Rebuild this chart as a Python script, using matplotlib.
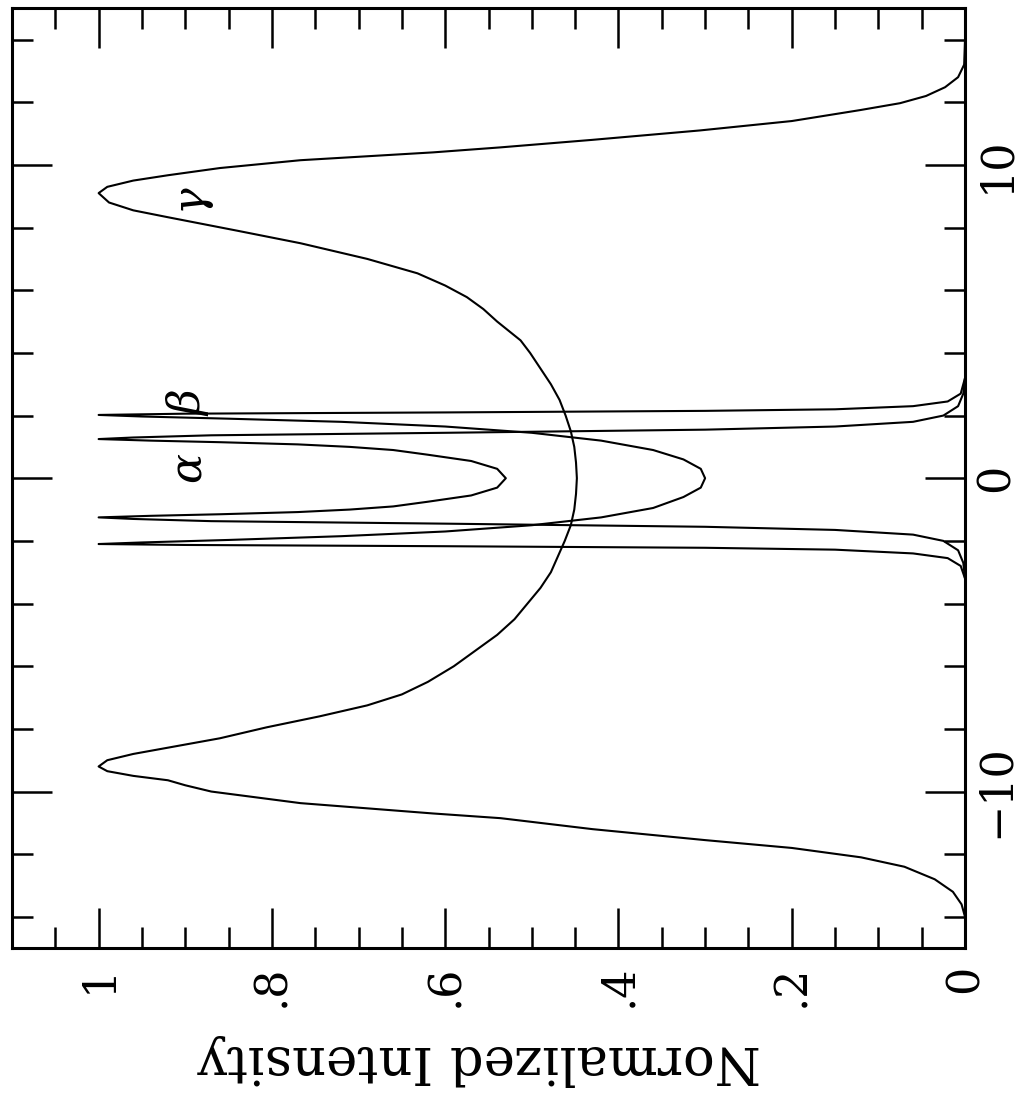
import matplotlib
matplotlib.use("Agg")
import matplotlib.pyplot as plt
from matplotlib.ticker import MultipleLocator, FixedLocator

plt.rcParams['font.family'] = ['DejaVu Serif']
plt.rcParams['mathtext.fontset'] = 'dejavuserif'

# profile positions (vertical axis) and normalized intensities
gamma_x = [-15.0, -14.0, -13.6, -13.2, -12.8, -12.4, -12.1, -11.8, -11.55, -11.2,
           -10.85, -10.7, -10.37, -10.0, -9.8, -9.64, -9.5, -9.35, -9.2, -9.0,
           -8.8, -8.6, -8.3, -7.95, -7.6, -7.25, -6.9, -6.5, -6.0, -5.5,
           -5.0, -4.5, -4.0, -3.5, -3.0, -2.5, -2.0, -1.5, -1.0, -0.5,
           0.0, 0.5, 1.0, 1.5, 2.0, 2.5, 3.0, 3.5, 4.0, 4.4,
           5.0, 5.4, 5.78, 6.15, 6.54, 7.0, 7.5, 7.9, 8.33, 8.55,
           8.8, 9.1, 9.3, 9.5, 9.67, 9.9, 10.15, 10.4, 10.56, 10.8,
           11.1, 11.4, 11.75, 11.97, 12.2, 12.48, 12.8, 13.2, 14.0, 15.0]
gamma_i = [0.0, 0.0, 0.004, 0.014, 0.035, 0.07, 0.12, 0.2, 0.30, 0.43,
           0.536, 0.614, 0.767, 0.87, 0.90, 0.92, 0.96, 0.99, 1.0, 0.99,
           0.96, 0.92, 0.86, 0.806, 0.745, 0.69, 0.65, 0.62, 0.59, 0.565,
           0.54, 0.52, 0.505, 0.49, 0.478, 0.47, 0.462, 0.455, 0.451, 0.449,
           0.448, 0.449, 0.451, 0.455, 0.461, 0.468, 0.478, 0.49, 0.502, 0.513,
           0.54, 0.556, 0.575, 0.60, 0.632, 0.69, 0.767, 0.84, 0.92, 0.96,
           0.988, 1.0, 0.99, 0.96, 0.92, 0.86, 0.767, 0.614, 0.536, 0.43,
           0.306, 0.2, 0.121, 0.075, 0.045, 0.023, 0.008, 0.001, 0.0, 0.0]

alpha_x = [-3.2, -2.7, -2.3, -2.0, -1.8, -1.65, -1.55, -1.45, -1.37, -1.3,
           -1.25, -1.2, -1.15, -1.08, -1.0, -0.9, -0.75, -0.55, -0.3, 0.0,
           0.3, 0.55, 0.75, 0.9, 1.0, 1.08, 1.15, 1.2, 1.25, 1.3,
           1.37, 1.45, 1.55, 1.65, 1.8, 2.0, 2.3, 2.7, 3.2]
alpha_i = [0.0, 0.002, 0.008, 0.025, 0.06, 0.15, 0.3, 0.6, 0.87, 0.96,
           1.0, 0.94, 0.86, 0.77, 0.71, 0.66, 0.62, 0.57, 0.54, 0.53,
           0.54, 0.57, 0.62, 0.66, 0.71, 0.77, 0.86, 0.94, 1.0, 0.96,
           0.87, 0.6, 0.3, 0.15, 0.06, 0.025, 0.008, 0.002, 0.0]

beta_x = [-3.2, -2.8, -2.55, -2.4, -2.28, -2.22, -2.17, -2.13, -2.1, -2.05,
          -1.97, -1.85, -1.7, -1.5, -1.25, -0.95, -0.6, -0.3, 0.0, 0.3,
          0.6, 0.9, 1.2, 1.45, 1.65, 1.8, 1.9, 1.97, 2.02, 2.06,
          2.1, 2.15, 2.2, 2.3, 2.45, 2.7, 3.2]
beta_i = [0.0, 0.005, 0.02, 0.06, 0.15, 0.3, 0.6, 0.9, 1.0, 0.95,
          0.85, 0.72, 0.6, 0.5, 0.42, 0.36, 0.325, 0.305, 0.30, 0.305,
          0.325, 0.36, 0.42, 0.5, 0.6, 0.72, 0.85, 0.95, 1.0, 0.9,
          0.6, 0.3, 0.15, 0.06, 0.02, 0.005, 0.0]

intensity_ticks = [0.0, 0.2, 0.4, 0.6, 0.8, 1.0]
intensity_labels = ['0', '.2', '.4', '.6', '.8', '1']

fig = plt.figure(figsize=(10.33, 11), dpi=100)
ax = fig.add_axes([0.0116, 0.138, 0.9226, 0.8545])

for xs, ys in [(gamma_x, gamma_i), (alpha_x, alpha_i), (beta_x, beta_i)]:
    ax.plot(ys, xs, color='black', lw=1.5, solid_joinstyle='round')

ax.set_xlim(1.1, 0)
ax.set_ylim(-15, 15)

ax.xaxis.set_major_locator(FixedLocator(intensity_ticks))
ax.set_xticklabels(intensity_labels)
ax.xaxis.set_minor_locator(MultipleLocator(0.05))
ax.yaxis.set_major_locator(MultipleLocator(10))
ax.yaxis.set_minor_locator(MultipleLocator(2))

ax.tick_params(which='both', direction='in', top=True, bottom=True,
               left=True, right=True, labelleft=False, labelright=True,
               width=1.8, colors='black')
ax.tick_params(which='major', length=29)
ax.tick_params(which='minor', length=15)
ax.tick_params(axis='x', labelsize=32, labelrotation=90, pad=12)
ax.tick_params(axis='y', labelsize=32, labelrotation=90, pad=7)
for lab in ax.get_yticklabels():
    lab.set_verticalalignment('center')

for s in ax.spines.values():
    s.set_linewidth(2.2)

ax.set_xlabel('Normalized Intensity', fontsize=38, rotation=180, va='center')
ax.xaxis.set_label_coords(0.49, -0.119)

ax.text(0.897, 2.43, r'$\beta$', rotation=90, ha='center', va='center', fontsize=32)
ax.text(0.896, 0.32, r'$\alpha$', rotation=90, ha='center', va='center', fontsize=32)
ax.text(0.89, 8.87, r'$\gamma$', rotation=90, ha='center', va='center', fontsize=32)

fig.savefig('out.png', dpi=100)
